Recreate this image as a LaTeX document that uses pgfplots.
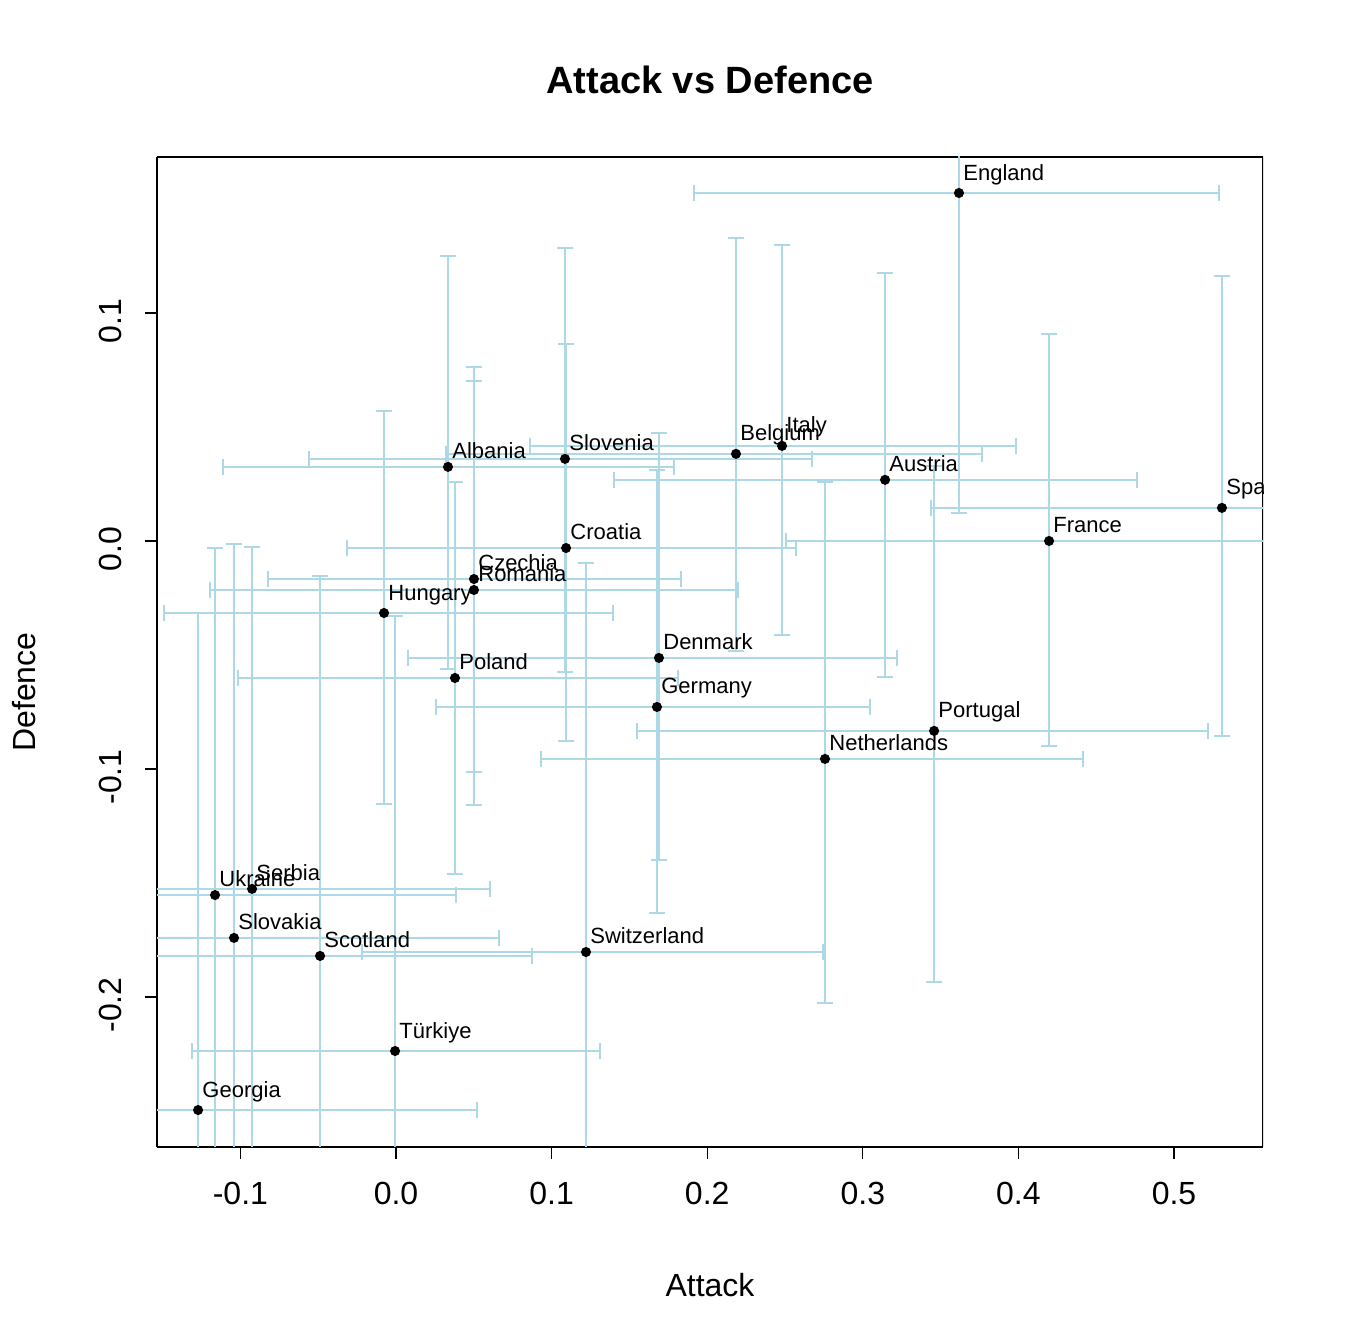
\documentclass[border=0pt]{standalone}
\usepackage{pgfplots}
\usepackage{pgfplotstable}
\pgfplotsset{compat=1.18}
\usepackage{fontspec}
\setmainfont{Liberation Sans}
\definecolor{lb}{RGB}{173,216,230}
\pgfplotstableread{
name x y xlo xhi ylo yhi
England 0.3618 0.1526 0.1915 0.5289 0.0123 0.2929
Italy 0.2481 0.0417 0.0861 0.3985 -0.0412 0.1298
Belgium 0.2185 0.0382 0.0321 0.3766 -0.0482 0.1329
Austria 0.3143 0.0268 0.1401 0.4762 -0.0596 0.1175
Spain 0.5308 0.0145 0.3438 0.7178 -0.0855 0.1162
France 0.4197 0.0 0.2506 0.5888 -0.0899 0.0908
Slovenia 0.1086 0.036 -0.0559 0.2674 -0.0575 0.1285
Albania 0.0334 0.0325 -0.1112 0.1787 -0.0561 0.125
Croatia 0.1093 -0.0031 -0.0315 0.2571 -0.0877 0.0864
Czechia 0.0501 -0.0167 -0.0823 0.1832 -0.1013 0.0763
Romania 0.0501 -0.0215 -0.1195 0.2198 -0.1158 0.0702
Hungary -0.0077 -0.0316 -0.1491 0.1395 -0.1154 0.057
Poland 0.0379 -0.0601 -0.1015 0.1812 -0.146 0.0259
Denmark 0.169 -0.0513 0.0077 0.322 -0.1399 0.0474
Germany 0.1677 -0.0728 0.0257 0.3046 -0.1632 0.0311
Portugal 0.3458 -0.0833 0.1549 0.5219 -0.1934 0.0329
Netherlands 0.2757 -0.0956 0.0932 0.4415 -0.2026 0.0259
Ukraine -0.1163 -0.1553 -0.2712 0.0386 -0.3075 -0.0031
Serbia -0.0925 -0.1526 -0.2454 0.0604 -0.3026 -0.0026
Slovakia -0.1041 -0.1741 -0.2744 0.0662 -0.3469 -0.0013
Scotland -0.0488 -0.182 -0.185 0.0874 -0.3486 -0.0154
Switzerland 0.1221 -0.1803 -0.0219 0.2744 -0.351 -0.0096
Georgia -0.1272 -0.2496 -0.3065 0.0521 -0.4676 -0.0316
Türkiye -0.0006 -0.2237 -0.1311 0.1311 -0.4145 -0.0329
}\data
\begin{document}
\begin{tikzpicture}[x=0.5pt,y=0.5pt]
\path (0,0) rectangle (1344,1344);
\node[font=\fontsize{19}{22}\selectfont\bfseries] at (710,1264) {Attack vs Defence};
\node[font=\fontsize{16}{19}\selectfont] at (710,59) {Attack};
\node[font=\fontsize{16}{19}\selectfont,rotate=90] at (24,652) {Defence};
\begin{axis}[at={(78.5pt,98.5pt)}, anchor=south west, scale only axis,
  width=553pt, height=495pt,
  xmin=-0.1536, xmax=0.5572, ymin=-0.2658, ymax=0.1684,
  axis x line*=bottom, axis y line*=left,
  axis line style={black, line width=0.6pt},
  separate axis lines,
  every outer x axis line/.append style={-},
  every outer y axis line/.append style={-},
  xtick={-0.1,0,0.1,0.2,0.3,0.4,0.5},
  ytick={-0.2,-0.1,0,0.1},
  xticklabels={-0.1,0.0,0.1,0.2,0.3,0.4,0.5},
  yticklabels={-0.2,-0.1,0.0,0.1},
  tick align=outside, tick style={black, line width=0.6pt},
  major tick length=6pt,
  xticklabel style={font=\fontsize{16}{19}\selectfont, yshift=-8pt},
  yticklabel style={font=\fontsize{16}{19}\selectfont, rotate=90, anchor=south, xshift=-4pt, yshift=8pt},
  clip marker paths=true,
  ]
\draw[black, line width=0.6pt] (rel axis cs:0,0) rectangle (rel axis cs:1,1);
\addplot[only marks, mark=*, mark size=2.3pt, mark options={fill=black, draw=black},
  error bars/.cd, x dir=both, y dir=both, x explicit, y explicit,
  error bar style={lb, line width=0.9pt},
  error mark options={lb, line width=0.9pt, mark size=4pt, rotate=90},
  ] table[x=x, y=y,
  x error plus expr=\thisrow{xhi}-\thisrow{x},
  x error minus expr=\thisrow{x}-\thisrow{xlo},
  y error plus expr=\thisrow{yhi}-\thisrow{y},
  y error minus expr=\thisrow{y}-\thisrow{ylo}] {\data};
\addplot[only marks, mark=none, nodes near coords,
  point meta=explicit symbolic,
  every node near coord/.style={font=\fontsize{11}{13}\selectfont, anchor=south west, inner sep=0pt, xshift=2pt, yshift=4pt}]
  table[x=x, y=y, meta=name] {\data};
\end{axis}
\end{tikzpicture}
\end{document}
